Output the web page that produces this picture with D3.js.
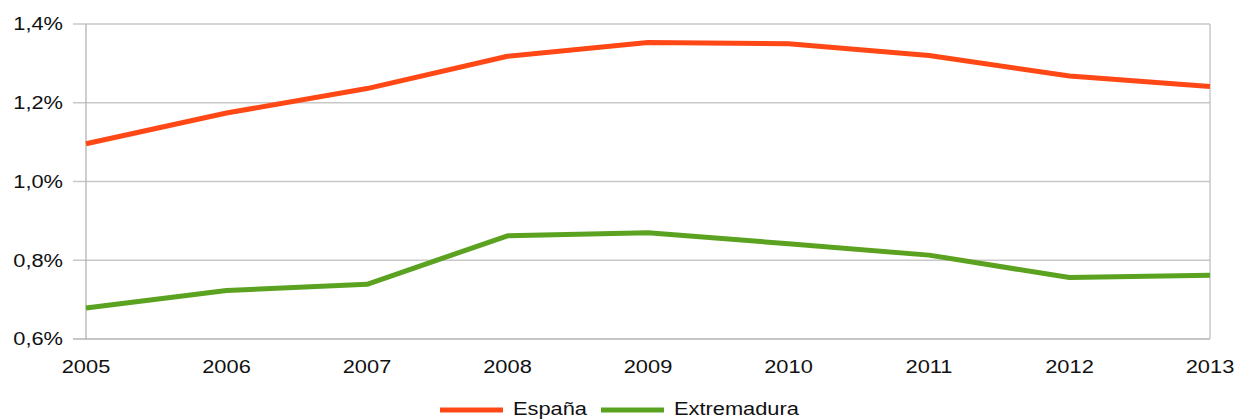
<!DOCTYPE html>
<html>
<head>
<meta charset="utf-8">
<script src="https://cdn.jsdelivr.net/npm/d3@7"></script>
<style>
  body { margin: 0; background: #fff; }
  text { font-family: "Liberation Sans", Arial, sans-serif; fill: #111; font-size: 18.5px; }
</style>
</head>
<body>
<div id="chart"></div>
<script>
// Data
var years = [2005, 2006, 2007, 2008, 2009, 2010, 2011, 2012, 2013];
var espana = [1.096, 1.174, 1.236, 1.318, 1.353, 1.350, 1.320, 1.268, 1.241];
var extremadura = [0.679, 0.723, 0.739, 0.862, 0.870, 0.842, 0.813, 0.756, 0.762];
var yTicks = [0.6, 0.8, 1.0, 1.2, 1.4];
var seriesNames = ["España", "Extremadura"];
var seriesColors = ["#ff4816", "#5aa21f"];

var w = 1237;
var h = 419;
var margin = { top: 24, right: 27, bottom: 80, left: 86 };
var stretch = 1.18; // text in the original is drawn a bit wide

var svg = d3.select("#chart")
    .append("svg")
    .attr("width", w)
    .attr("height", h);

// Scales
var xScale = d3.scalePoint()
    .domain(years)
    .range([margin.left, w - margin.right]);

var yScale = d3.scaleLinear()
    .domain([0.6, 1.4])
    .range([h - margin.bottom, margin.top]);

function place(x, y) {
    return "translate(" + x + "," + y + ") scale(" + stretch + ",1)";
}

// Grid lines
svg.append("g")
    .selectAll("line")
    .data(yTicks)
    .enter()
    .append("line")
    .attr("x1", margin.left - 13)
    .attr("x2", w - margin.right)
    .attr("y1", function (d) { return yScale(d); })
    .attr("y2", function (d) { return yScale(d); })
    .attr("stroke", function (d) { return d === 0.6 ? "#b3b3b3" : "#c8c8c8"; })
    .attr("stroke-width", 1.3);

// Plot borders left / right
svg.append("line")
    .attr("x1", margin.left).attr("x2", margin.left)
    .attr("y1", margin.top).attr("y2", h - margin.bottom)
    .attr("stroke", "#b3b3b3").attr("stroke-width", 1.3);
svg.append("line")
    .attr("x1", w - margin.right).attr("x2", w - margin.right)
    .attr("y1", margin.top).attr("y2", h - margin.bottom)
    .attr("stroke", "#c0c0c0").attr("stroke-width", 1.3);

// Y labels
var fmt = function (d) { return d.toFixed(1).replace(".", ",") + "%"; };
svg.append("g")
    .selectAll("text")
    .data(yTicks)
    .enter()
    .append("text")
    .attr("transform", function (d) { return place(margin.left - 23, yScale(d)); })
    .attr("dy", "0.35em")
    .attr("text-anchor", "end")
    .text(fmt);

// X labels
svg.append("g")
    .selectAll("text")
    .data(years)
    .enter()
    .append("text")
    .attr("transform", function (d) { return place(xScale(d), h - margin.bottom + 34); })
    .attr("text-anchor", "middle")
    .text(function (d) { return d; });

// Lines
var line = d3.line()
    .x(function (d, i) { return xScale(years[i]); })
    .y(function (d) { return yScale(d); });

[espana, extremadura].forEach(function (s, k) {
    svg.append("path")
        .datum(s)
        .attr("d", line)
        .attr("fill", "none")
        .attr("stroke", seriesColors[k])
        .attr("stroke-width", 5)
        .attr("stroke-linejoin", "round");
});

// Legend
var legendX = [440, 601];
var legend = svg.append("g");
seriesNames.forEach(function (name, k) {
    legend.append("line")
        .attr("x1", legendX[k]).attr("x2", legendX[k] + 63)
        .attr("y1", 410).attr("y2", 410)
        .attr("stroke", seriesColors[k])
        .attr("stroke-width", 5);
    legend.append("text")
        .attr("transform", place(legendX[k] + 73, 415))
        .text(name);
});
</script>
</body>
</html>
